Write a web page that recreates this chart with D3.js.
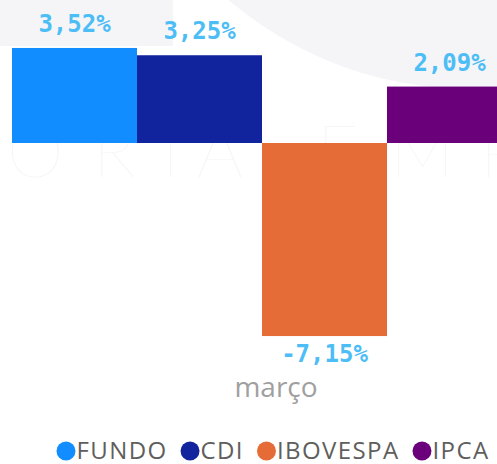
<!DOCTYPE html>
<html>
<head>
<meta charset="utf-8">
<script src="https://cdn.jsdelivr.net/npm/d3@7"></script>
<style>
  body { margin: 0; background: #fff; }
  svg { display: block; }
</style>
</head>
<body>
<div class="canvas"></div>
<script>
const categories = ['março'];
const series = ['FUNDO', 'CDI', 'IBOVESPA', 'IPCA'];
const values = [3.52, 3.25, -7.15, 2.09];
const labels = ['3,52%', '3,25%', '-7,15%', '2,09%'];
const colors = ['#118dff', '#12239e', '#e66c37', '#6b007b'];

const dims = { width: 497, height: 464 };

const svg = d3.select('.canvas')
  .append('svg')
  .attr('width', dims.width)
  .attr('height', dims.height);

// faint background watermark (logo shapes + lettering)
const wm = svg.append('g');
wm.append('rect')
  .attr('x', 0).attr('y', 0).attr('width', 173).attr('height', 46)
  .attr('fill', '#f5f5f8');
wm.append('circle')
  .attr('cx', 470).attr('cy', -283).attr('r', 372)
  .attr('fill', '#f5f5f8');
wm.append('text')
  .attr('x', '7 93 150 197 317 390 480')
  .attr('y', 177)
  .attr('font-family', 'Lato, "Open Sans", sans-serif')
  .attr('font-weight', 100)
  .attr('font-size', 72)
  .attr('fill', '#f4f4f4')
  .text('ORTAEMP');

// scales
const x0 = d3.scaleBand()
  .domain(categories)
  .range([12, 540])
  .paddingInner(0);

const x1 = d3.scaleBand()
  .domain(series)
  .range([0, 500]);

const y = d3.scaleLinear()
  .domain([-8, 4])
  .range([359, 35]);

const color = d3.scaleOrdinal().domain(series).range(colors);

const data = series.map((s, i) => ({ name: s, value: values[i], label: labels[i], cat: categories[0] }));

const graph = svg.append('g');

graph.selectAll('rect.bar')
  .data(data)
  .enter()
  .append('rect')
  .attr('class', 'bar')
  .attr('x', d => x0(d.cat) + x1(d.name))
  .attr('width', x1.bandwidth())
  .attr('y', d => y(Math.max(0, d.value)))
  .attr('height', d => Math.abs(y(d.value) - y(0)))
  .attr('fill', d => color(d.name));

// data labels
graph.selectAll('text.lbl')
  .data(data)
  .enter()
  .append('text')
  .attr('class', 'lbl')
  .attr('x', d => x0(d.cat) + x1(d.name) + x1.bandwidth() / 2)
  .attr('y', d => d.value >= 0 ? y(d.value) - 16 : y(d.value) + 26)
  .attr('text-anchor', 'middle')
  .attr('font-family', '"DejaVu Sans Mono", monospace')
  .attr('font-weight', 'bold')
  .attr('font-size', 24)
  .attr('fill', '#4dbdf6')
  .text(d => d.label);

// category axis label
svg.selectAll('text.cat')
  .data(categories)
  .enter()
  .append('text')
  .attr('class', 'cat')
  .attr('x', d => x0(d) + x0.bandwidth() / 2)
  .attr('y', 397)
  .attr('text-anchor', 'middle')
  .attr('font-family', '"Open Sans", sans-serif')
  .attr('font-size', 28)
  .attr('fill', '#a0a0a0')
  .text(d => d);

// legend, laid out from measured text widths and centred
const legend = svg.append('g');
const r = 9.5, gapText = 1, gapItem = 13;
let cursor = 0;
series.forEach(s => {
  const item = legend.append('g');
  item.append('circle')
    .attr('cx', cursor + r).attr('cy', 451).attr('r', r)
    .attr('fill', color(s));
  const t = item.append('text')
    .attr('x', cursor + 2 * r + gapText)
    .attr('y', 459)
    .attr('font-family', '"Open Sans", sans-serif')
    .attr('font-size', 24)
    .attr('letter-spacing', 1.4)
    .attr('fill', '#605e5c')
    .text(s);
  cursor += 2 * r + gapText + t.node().getComputedTextLength() + gapItem;
});
const legendWidth = cursor - gapItem;
legend.attr('transform', `translate(${273 - legendWidth / 2}, 0)`);
</script>
</body>
</html>
